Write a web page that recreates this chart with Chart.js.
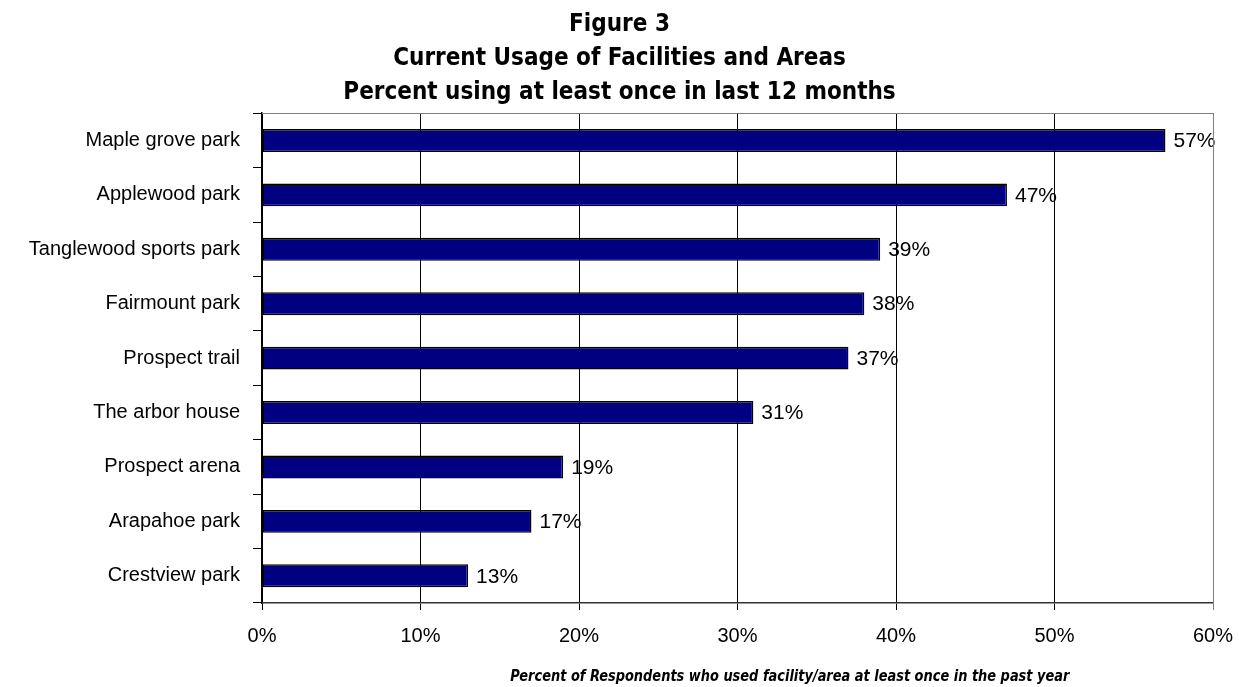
<!DOCTYPE html>
<html>
<head>
<meta charset="utf-8">
<title>Figure 3</title>
<script src="https://cdn.jsdelivr.net/npm/chart.js@4.4.1/dist/chart.umd.min.js"></script>
<style>
  html, body { margin: 0; padding: 0; background: #fff; }
  #wrap { width: 1239px; height: 687px; position: relative; }
</style>
</head>
<body>
<div id="wrap"><canvas id="usage-chart"></canvas></div>
<script>
var facilities = [
    "Maple grove park",
    "Applewood park",
    "Tanglewood sports park",
    "Fairmount park",
    "Prospect trail",
    "The arbor house",
    "Prospect arena",
    "Arapahoe park",
    "Crestview park"
];
var percentUsing = [57, 47, 39, 38, 37, 31, 19, 17, 13];
var titleLines = [
    "Figure 3",
    "Current Usage of Facilities and Areas",
    "Percent using at least once in last 12 months"
];
var axisTitle = "Percent of Respondents who used facility/area at least once in the past year";

var narrow = "'DejaVu Sans Condensed', 'DejaVu Sans', sans-serif";
var plain = "'Liberation Sans', Arial, sans-serif";

Chart.defaults.color = "#000";

// value labels at the end of each bar
var barValues = {
    id: "barValues",
    afterDatasetsDraw: function (chart) {
        var ctx = chart.ctx;
        var meta = chart.getDatasetMeta(0);
        ctx.save();
        ctx.font = "21px " + plain;
        ctx.fillStyle = "#000";
        ctx.textBaseline = "middle";
        ctx.textAlign = "left";
        meta.data.forEach(function (bar, i) {
            ctx.fillText(percentUsing[i] + "%", bar.x + 8, bar.y + 1);
        });
        ctx.restore();
    }
};

// grey frame on the top and right of the plot, plus the squeezed x-axis caption
var plotFrame = {
    id: "plotFrame",
    afterDraw: function (chart) {
        var a = chart.chartArea;
        var ctx = chart.ctx;
        ctx.save();
        ctx.strokeStyle = "#808080";
        ctx.lineWidth = 1;
        ctx.beginPath();
        ctx.moveTo(a.left, Math.round(a.top) + 0.5);
        ctx.lineTo(Math.round(a.right) + 0.5, Math.round(a.top) + 0.5);
        ctx.lineTo(Math.round(a.right) + 0.5, a.bottom);
        ctx.stroke();

        var cx = a.left + (a.right - a.left) * 0.555;
        ctx.translate(cx, chart.height - 10);
        ctx.scale(0.9, 1);
        ctx.font = "italic bold 16px " + narrow;
        ctx.fillStyle = "#000";
        ctx.textAlign = "center";
        ctx.textBaseline = "middle";
        ctx.fillText(axisTitle, 0, 0);
        ctx.restore();
    }
};

new Chart(document.getElementById("usage-chart"), {
    type: "bar",
    data: {
        labels: facilities,
        datasets: [{
            data: percentUsing,
            backgroundColor: "#000080",
            borderColor: "#000",
            borderWidth: 1.5,
            borderSkipped: false,
            categoryPercentage: 1,
            barPercentage: 0.42
        }]
    },
    options: {
        indexAxis: "y",
        responsive: true,
        maintainAspectRatio: false,
        animation: false,
        layout: { padding: 0 },
        plugins: {
            legend: { display: false },
            tooltip: { enabled: false },
            title: {
                display: true,
                text: titleLines,
                font: { family: narrow, size: 24, weight: "bold", lineHeight: 1.42 },
                color: "#000",
                padding: { top: 8, bottom: 3 }
            }
        },
        scales: {
            x: {
                min: 0,
                max: 60,
                afterFit: function (scale) {
                    scale.height = 84;
                    scale.paddingLeft = 0;
                    scale.paddingRight = 26;
                },
                ticks: {
                    stepSize: 10,
                    padding: 14,
                    font: { family: plain, size: 20 },
                    callback: function (v) { return v + "%"; }
                },
                grid: {
                    color: function (c) { return c.tick && c.tick.value === 60 ? "#808080" : "#000"; },
                    lineWidth: 1,
                    tickLength: 7
                },
                border: { color: "#333", width: 1.5 }
            },
            y: {
                afterFit: function (scale) { scale.width = 262; },
                ticks: {
                    padding: 13,
                    font: { family: plain, size: 20 }
                },
                grid: {
                    drawOnChartArea: false,
                    color: "#000",
                    tickLength: 9
                },
                border: { color: "#000", width: 1.5 }
            }
        }
    },
    plugins: [barValues, plotFrame]
});
</script>
</body>
</html>
